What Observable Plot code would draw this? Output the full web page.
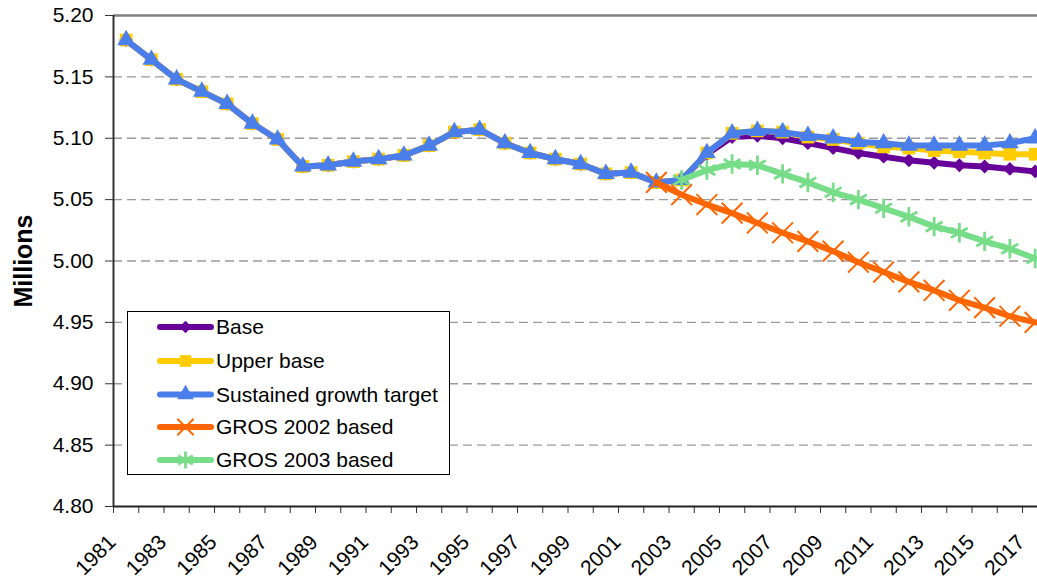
<!DOCTYPE html>
<html><head><meta charset="utf-8">
<script src="https://cdn.jsdelivr.net/npm/d3@7"></script>
<script src="https://cdn.jsdelivr.net/npm/@observablehq/plot@0.6"></script>
<style>
body{margin:0;background:#fff;font-family:"Liberation Sans",Arial,sans-serif}
#wrap{position:relative;width:1037px;height:584px;overflow:hidden;background:#fff}
#wrap svg{overflow:hidden}
#legend{position:absolute;left:127px;top:311px}
</style></head><body><div id="wrap"></div>
<script>
// ---- data ----
const years = [1981,1982,1983,1984,1985,1986,1987,1988,1989,1990,1991,1992,1993,1994,1995,1996,1997,1998,1999,2000,2001,2002,2003,2004,2005,2006,2007,2008,2009,2010,2011,2012,2013,2014,2015,2016,2017];
const labelYears = [1981,1983,1985,1987,1989,1991,1993,1995,1997,1999,2001,2003,2005,2007,2009,2011,2013,2015,2017];
const yTicks = [4.80,4.85,4.90,4.95,5.00,5.05,5.10,5.15,5.20];
const seriesNames = ["Base","Upper base","Sustained growth target","GROS 2002 based","GROS 2003 based"];
const seriesColors = ["#660099","#FFCC00","#4A7EEB","#FF6600","#77DD88"];
// 1981-2003, shared by Base, Upper base and Sustained growth target
const historical = [5.180,5.164,5.148,5.138,5.128,5.112,5.099,5.077,5.078,5.081,5.083,5.086,5.094,5.105,5.107,5.096,5.088,5.083,5.079,5.071,5.072,5.064,5.066];
// 2004-2017
const baseProj = [5.087,5.101,5.102,5.100,5.096,5.092,5.088,5.085,5.082,5.080,5.078,5.077,5.075,5.073];
const upperProj = [5.088,5.104,5.106,5.105,5.101,5.099,5.096,5.093,5.092,5.090,5.089,5.088,5.087,5.087];
const sustainedProj = [5.088,5.104,5.106,5.105,5.102,5.100,5.097,5.096,5.094,5.094,5.094,5.094,5.096,5.100];
// 2002-2017
const gros2002 = [5.064,5.054,5.046,5.039,5.031,5.023,5.016,5.008,4.999,4.991,4.983,4.976,4.968,4.962,4.955,4.950];
// 2003-2017
const gros2003 = [5.066,5.074,5.079,5.078,5.071,5.064,5.056,5.050,5.043,5.036,5.028,5.023,5.016,5.010,5.002];

// ---- build rows ----
function rowsFrom(startYear, values){ const i0 = years.indexOf(startYear); return values.map((v,i)=>({year: years[i0+i], value: v})); }
const seriesData = [
  rowsFrom(1981, historical.concat(baseProj)),
  rowsFrom(1981, historical.concat(upperProj)),
  rowsFrom(1981, historical.concat(sustainedProj)),
  rowsFrom(2002, gros2002),
  rowsFrom(2003, gros2003)
];
const boundaries = years.map(y=>y-0.5).concat([years[years.length-1]+0.5]);

const diamond = {draw(ctx, size){ const r = Math.sqrt(size/2); ctx.moveTo(0,-r); ctx.lineTo(r,0); ctx.lineTo(0,r); ctx.lineTo(-r,0); ctx.closePath(); }};
const markerSpec = [
  {symbol: diamond, r: 5.5, filled: true, sw: 0},
  {symbol: "square", r: 7.2, filled: true, sw: 0},
  {symbol: "triangle", r: 6.6, filled: true, sw: 0},
  {symbol: "times", r: 9.5, filled: false, sw: 2},
  {symbol: "asterisk", r: 9.2, filled: false, sw: 2.8}
];

const seriesMarks = [];
seriesData.forEach((data, i) => {
  seriesMarks.push(Plot.line(data, {x: "year", y: "value", stroke: seriesColors[i], strokeWidth: 6, strokeLinejoin: "round", strokeLinecap: "round"}));
  const m = markerSpec[i];
  seriesMarks.push(Plot.dot(data, m.filled
    ? {x: "year", y: "value", symbol: m.symbol, r: m.r, fill: seriesColors[i], stroke: "none"}
    : {x: "year", y: "value", symbol: m.symbol, r: m.r, fill: "none", stroke: seriesColors[i], strokeWidth: m.sw}));
});

const chart = Plot.plot({
  width: 1037, height: 584,
  marginLeft: 113, marginTop: 15, marginBottom: 78, marginRight: 0,
  style: {fontFamily: "'Liberation Sans', Arial, sans-serif", fontSize: "20px", color: "#000", background: "#fff", overflow: "hidden"},
  x: {domain: [1980.5, 2017.5], range: [113, 1047.25]},
  y: {domain: [4.80, 5.20], range: [506, 15]},
  marks: [
    Plot.ruleY(yTicks.slice(1, -1), {stroke: "#9a9a9a", strokeWidth: 1.3, strokeDasharray: "9,5"}),
    Plot.ruleY([5.20], {stroke: "#808080", strokeWidth: 2.5}),
    Plot.axisY({ticks: yTicks, tickSize: 8, tickPadding: 12, tickFormat: d3.format(".2f"), fontSize: 21, label: null, stroke: "#333"}),
    Plot.axisX({ticks: boundaries, tickSize: 7, tickFormat: () => "", label: null, stroke: "#333"}),
    Plot.text(labelYears, {x: d => d, text: d => String(d), frameAnchor: "bottom", rotate: -45, textAnchor: "end", lineAnchor: "bottom", dx: -9, dy: 37, fontSize: 21, fill: "#000"}),
    Plot.text(["Millions"], {frameAnchor: "left", textAnchor: "middle", rotate: -90, dx: -90, fontSize: 25, fontWeight: "bold", fill: "#000"}),
    ...seriesMarks,
    Plot.ruleX([1980.5], {stroke: "#333", strokeWidth: 2}),
    Plot.ruleY([4.80], {stroke: "#222", strokeWidth: 2})
  ]
});
document.getElementById("wrap").appendChild(chart);

// ---- legend overlay ----
const lg = d3.select("#wrap").append("svg").attr("id","legend").attr("width", 324).attr("height", 165);
lg.append("rect").attr("x", 0.5).attr("y", 0.5).attr("width", 322).attr("height", 163).attr("fill", "#fff").attr("stroke", "#000").attr("stroke-width", 1);
const rowY = [16, 50, 83.5, 116, 149];
const d3Sym = [diamond, d3.symbolSquare, d3.symbolTriangle, d3.symbolTimes, d3.symbolAsterisk];
const legendR = [5, 6.5, 6.2, 7.5, 8];
seriesNames.forEach((name, i) => {
  const g = lg.append("g").attr("transform", `translate(0,${rowY[i]})`);
  g.append("line").attr("x1", 33).attr("x2", 84).attr("y1", 0).attr("y2", 0).attr("stroke", seriesColors[i]).attr("stroke-width", 6).attr("stroke-linecap", "round");
  const m = markerSpec[i];
  const p = g.append("path").attr("transform", "translate(58.5,0)").attr("d", d3.symbol(d3Sym[i], Math.PI * legendR[i] * legendR[i])());
  if (m.filled) p.attr("fill", seriesColors[i]); else p.attr("fill", "none").attr("stroke", seriesColors[i]).attr("stroke-width", m.sw);
  g.append("text").attr("x", 89).attr("y", 0).attr("dy", "0.35em").attr("font-size", 21).attr("font-family", "'Liberation Sans', Arial, sans-serif").attr("fill", "#000").text(name);
});
</script></body></html>
